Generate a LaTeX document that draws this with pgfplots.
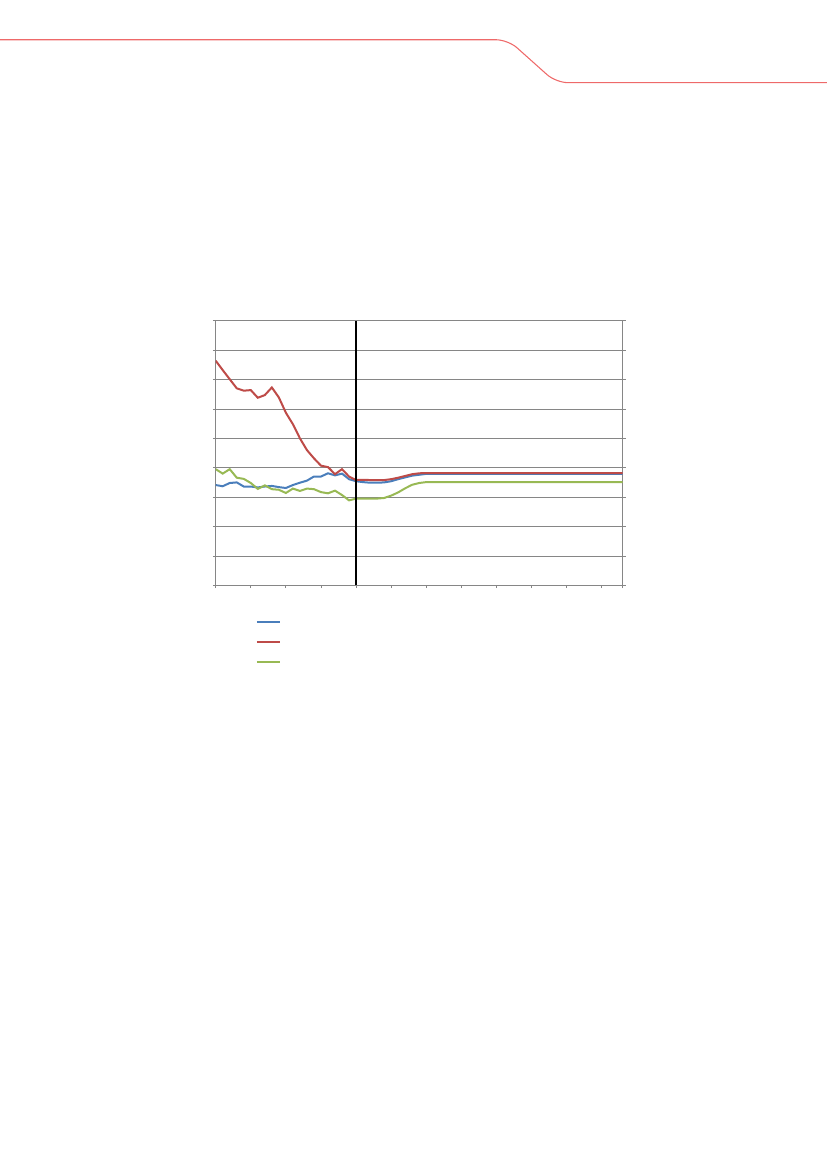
\documentclass[border=0pt]{standalone}
\usepackage{pgfplots}
\pgfplotsset{compat=1.18}
\definecolor{xlblue}{RGB}{74,126,187}
\definecolor{xlred}{RGB}{190,75,72}
\definecolor{xlgreen}{RGB}{152,185,84}
\definecolor{hdrred}{RGB}{238,105,105}
\definecolor{gridgray}{RGB}{134,134,134}
\begin{document}
\begin{tikzpicture}
\path[use as bounding box] (0,0) rectangle (620.25pt,-877.5pt);
\draw[hdrred, line width=0.8pt, rounded corners=9pt] (0,-29.8pt) -- (381pt,-29.8pt) -- (417pt,-62pt) -- (620.25pt,-62pt);
\begin{axis}[
  at={(161.775pt,-438.975pt)}, anchor=south west,
  scale only axis, width=305.25pt, height=198.45pt,
  xmin=0, xmax=58, ymin=0, ymax=9,
  xtick={0,5,...,55,58}, ytick={0,1,...,9},
  xticklabels={}, yticklabels={},
  xtick pos=bottom, ytick pos=both,
  tick align=outside, major tick length=2.2pt,
  ymajorgrids, grid style={gridgray, line width=0.6pt},
  axis line style={gridgray, line width=0.6pt},
  tick style={gridgray, line width=0.6pt},
  legend style={draw=none, fill=none, at={(0.099,-0.101)}, anchor=north west, inner sep=0pt, outer sep=0pt, row sep=0pt, nodes={minimum height=15pt, inner sep=0pt}},
  legend cell align=left,
]
\addplot[xlblue, line width=1.5pt, no markers] coordinates {
(0,3.41)(1,3.37)(2,3.48)(3,3.50)(4,3.36)(5,3.36)(6,3.33)(7,3.36)(8,3.38)(9,3.34)
(10,3.31)(11,3.41)(12,3.49)(13,3.56)(14,3.70)(15,3.70)(16,3.81)(17,3.74)(18,3.80)(19,3.61)
(20,3.54)(21,3.51)(22,3.49)(23,3.49)(24,3.50)(25,3.54)(26,3.61)(27,3.67)(28,3.73)(29,3.76)
(30,3.79)(31,3.79)(32,3.79)(33,3.79)(34,3.79)(35,3.79)(36,3.79)(37,3.79)(38,3.79)(39,3.79)
(40,3.79)(41,3.79)(42,3.79)(43,3.79)(44,3.79)(45,3.79)(46,3.79)(47,3.79)(48,3.79)(49,3.79)
(50,3.79)(51,3.79)(52,3.79)(53,3.79)(54,3.79)(55,3.79)(56,3.79)(57,3.79)(58,3.79)};
\addlegendentry{}
\addplot[xlred, line width=1.5pt, no markers] coordinates {
(0,7.64)(1,7.32)(2,7.01)(3,6.70)(4,6.62)(5,6.64)(6,6.38)(7,6.47)(8,6.73)(9,6.39)
(10,5.87)(11,5.48)(12,5.00)(13,4.60)(14,4.32)(15,4.07)(16,4.02)(17,3.78)(18,3.95)(19,3.70)
(20,3.58)(21,3.59)(22,3.58)(23,3.58)(24,3.58)(25,3.61)(26,3.66)(27,3.72)(28,3.78)(29,3.81)
(30,3.82)(31,3.82)(32,3.82)(33,3.82)(34,3.82)(35,3.82)(36,3.82)(37,3.82)(38,3.82)(39,3.82)
(40,3.82)(41,3.82)(42,3.82)(43,3.82)(44,3.82)(45,3.82)(46,3.82)(47,3.82)(48,3.82)(49,3.82)
(50,3.82)(51,3.82)(52,3.82)(53,3.82)(54,3.82)(55,3.82)(56,3.82)(57,3.82)(58,3.82)};
\addlegendentry{}
\addplot[xlgreen, line width=1.5pt, no markers] coordinates {
(0,3.95)(1,3.80)(2,3.95)(3,3.66)(4,3.62)(5,3.48)(6,3.28)(7,3.40)(8,3.27)(9,3.25)
(10,3.14)(11,3.29)(12,3.21)(13,3.29)(14,3.27)(15,3.17)(16,3.13)(17,3.22)(18,3.07)(19,2.89)
(20,2.95)(21,2.95)(22,2.95)(23,2.95)(24,2.97)(25,3.05)(26,3.16)(27,3.30)(28,3.42)(29,3.48)
(30,3.51)(31,3.51)(32,3.51)(33,3.51)(34,3.51)(35,3.51)(36,3.51)(37,3.51)(38,3.51)(39,3.51)
(40,3.51)(41,3.51)(42,3.51)(43,3.51)(44,3.51)(45,3.51)(46,3.51)(47,3.51)(48,3.51)(49,3.51)
(50,3.51)(51,3.51)(52,3.51)(53,3.51)(54,3.51)(55,3.51)(56,3.51)(57,3.51)(58,3.51)};
\addlegendentry{}
\addplot[black, line width=1pt, no markers, forget plot] coordinates {(20,0)(20,9)};
\end{axis}
\end{tikzpicture}
\end{document}
